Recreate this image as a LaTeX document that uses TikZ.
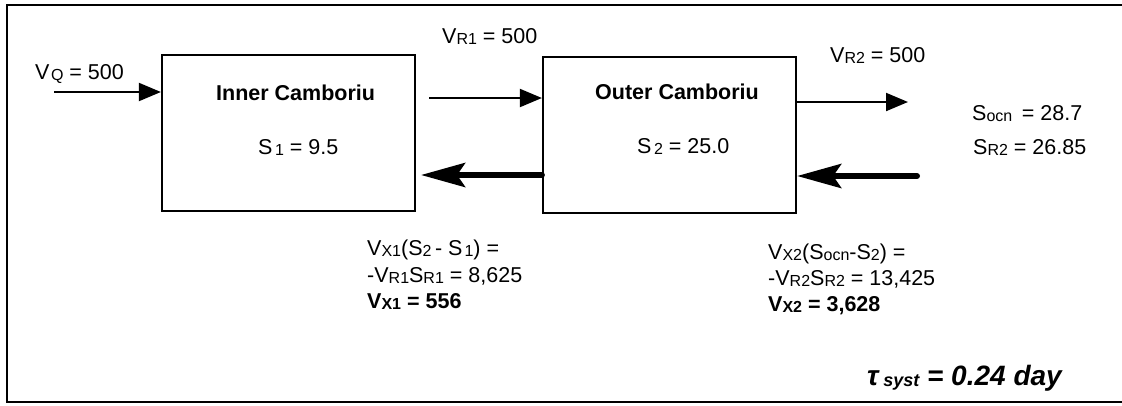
\documentclass[tikz,border=0pt]{standalone}
\usepackage{fontspec}
\setmainfont{Liberation Sans}
\usetikzlibrary{arrows.meta}
\newcommand\lo[1]{\raisebox{-1.2pt}{\fontsize{16}{16}\selectfont #1}}
\begin{document}
\begin{tikzpicture}[x=1pt,y=-1pt,
  every node/.style={font=\fontsize{21.5}{24}\selectfont, inner sep=0pt},
  lbl/.style={anchor=base west},
  bl/.style={font=\fontsize{21.5}{24}\selectfont\bfseries},
  boxnode/.style={draw, line width=2.2pt, inner sep=0pt, minimum width=253pt, minimum height=156pt},
  thinarr/.style={line width=2pt, -{Triangle[length=22pt,width=18pt]}},
  thickarr/.style={line width=6pt, line cap=round, -{Stealth[length=44pt,width=24pt,inset=8pt]}},
  frameline/.style={line width=2pt}]
\useasboundingbox (0,0) rectangle (1122,405);
\draw[frameline] (1124,5) -- (7,5) -- (7,402) -- (1124,402);

\node[boxnode] (inner) at (288.5,133) {};
\node[boxnode] (outer) at (669.5,135) {};

\coordinate (q) at (54,92);
\coordinate (r1) at (429,98);
\coordinate (x1) at (421,175);
\coordinate (r2) at (908,102);
\coordinate (x2) at (917,176);

\draw[thinarr] (q) -- (q -| inner.west);
\draw[thinarr] (r1) -- (r1 -| outer.west);
\draw[thickarr] (x1 -| outer.west) -- (x1);
\draw[thinarr] (r2 -| outer.east) -- (r2);
\draw[thickarr] (x2) -- (x2 -| outer.east);

\node[lbl] (tq) at (35,79) {V\kern1.5pt\lo{Q} = 500};
\node[lbl] (tr1) at (442,43) {V\lo{R1} = 500};
\node[lbl] (tr2) at (830,62) {V\lo{R2} = 500};
\node[lbl,bl] (tin) at (216,100) {Inner Camboriu};
\node[lbl] (ts1) at (258,154) {S\kern2.5pt\lo{1} = 9.5};
\node[lbl,bl] (tout) at (595,99) {Outer Camboriu};
\node[lbl] (ts2) at (637,153) {S\kern2.5pt\lo{2} = 25.0};
\node[lbl] (tocn) at (972,120) {S\lo{ocn}\, = 28.7};
\node[lbl] (tsr2) at (973,154) {S\lo{R2} = 26.85};

\node[lbl] (e1a) at (367,255) {V\lo{X1}(S\lo{2}\,- S\kern2pt\lo{1}) =};
\node[lbl] (e1b) at (367,282) {-V\lo{R1}S\lo{R1} = 8,625};
\node[lbl,bl] (e1c) at (367,308) {V\lo{X1} = 556};

\node[lbl] (e2a) at (768,259) {V\lo{X2}(S\lo{ocn}-S\lo{2}) =};
\node[lbl] (e2b) at (768,285) {-V\lo{R2}S\lo{R2} = 13,425};
\node[lbl,bl] (e2c) at (768,311) {V\lo{X2} = 3,628};

\node[lbl,font=\fontsize{28}{30}\selectfont\bfseries\itshape] (tau) at (867,385) {τ\,\raisebox{-1.5pt}{\fontsize{18}{18}\selectfont syst} = 0.24 day};
\end{tikzpicture}
\end{document}
